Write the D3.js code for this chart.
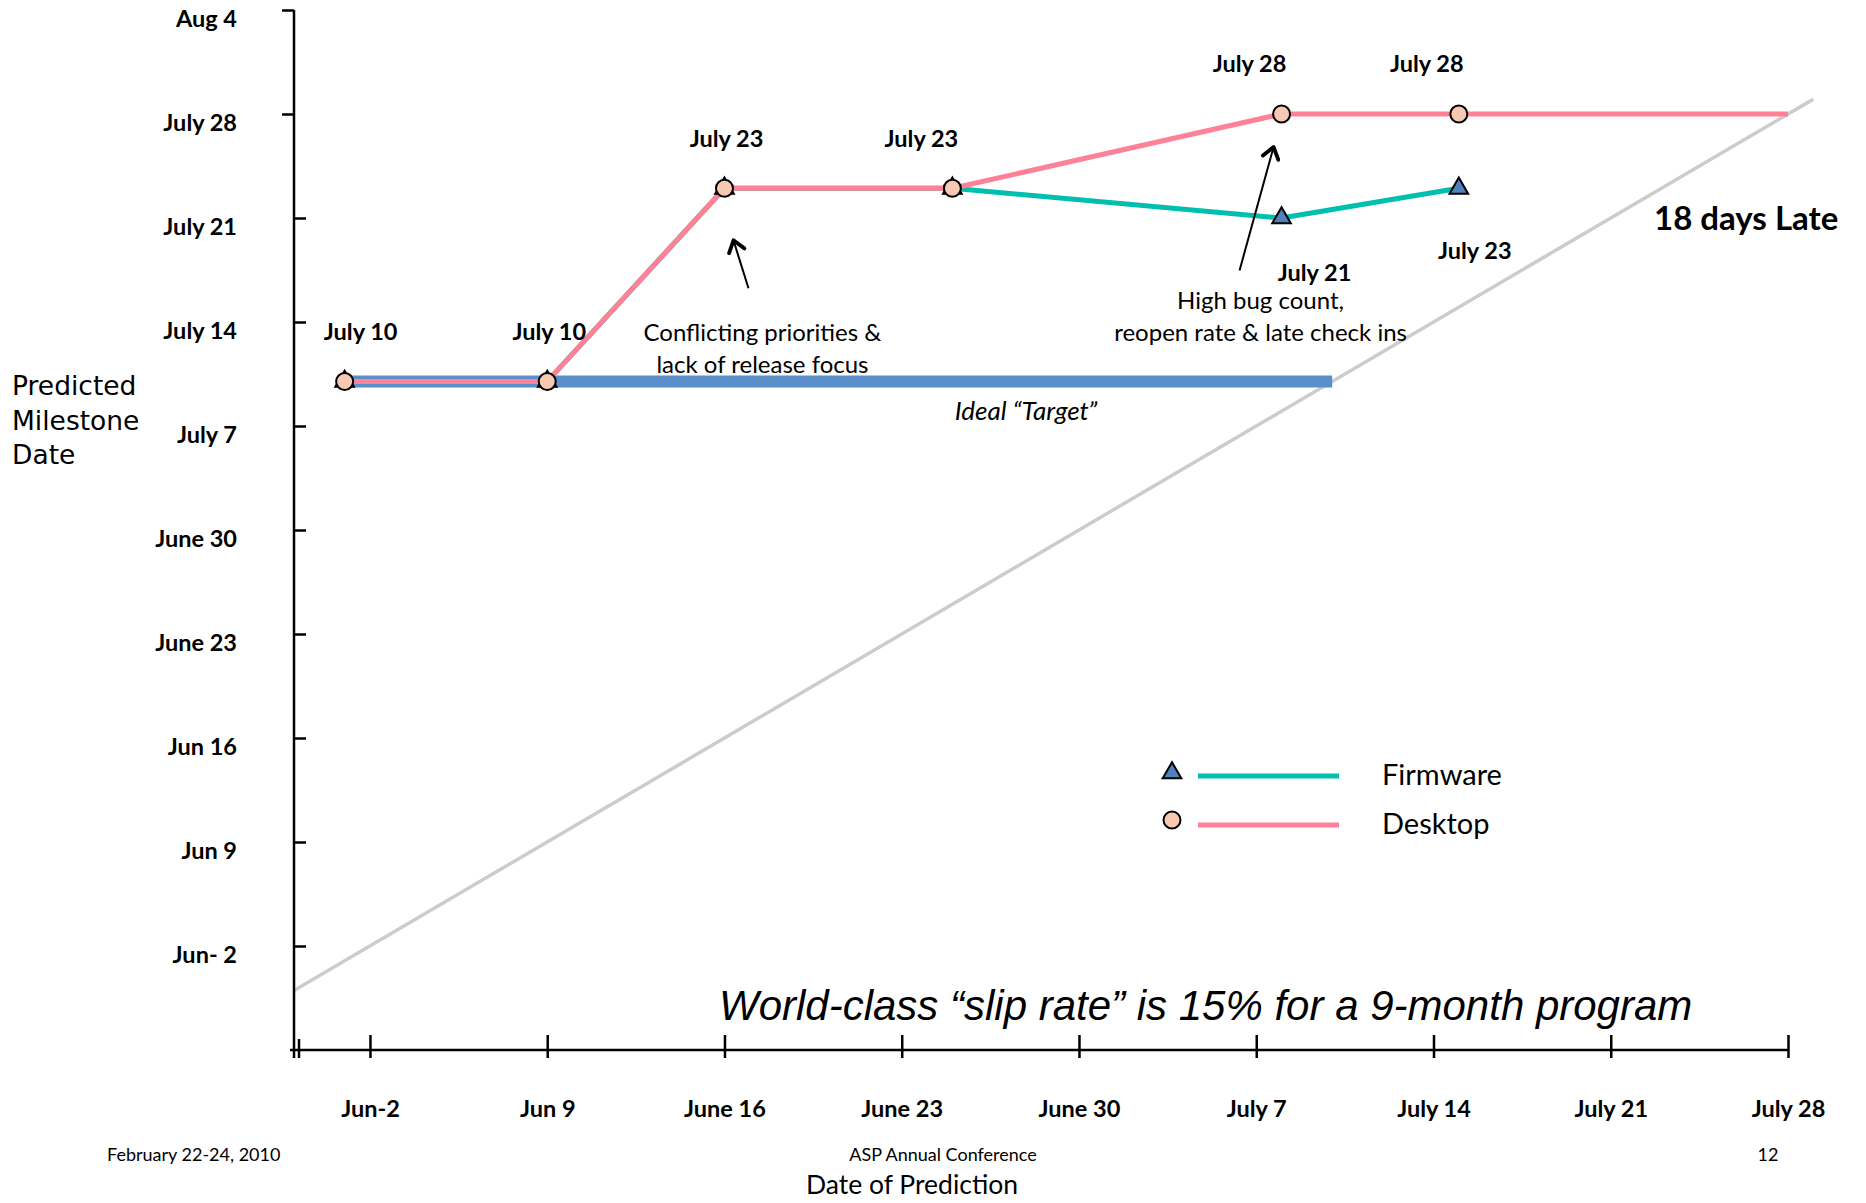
<!DOCTYPE html>
<html>
<head>
<meta charset="utf-8">
<script src="https://cdn.jsdelivr.net/npm/d3@7"></script>
<style>
  html, body { margin: 0; padding: 0; background: #fff; }
  svg { display: block; }
</style>
</head>
<body>
<svg id="chart" width="1866" height="1203"></svg>
<script>
const parseDay = d3.timeParse("%Y-%m-%d");
const fmtDay = d3.timeFormat("%B %-d");

// Dates on which each schedule prediction was made
const predictionDates = ["2009-06-01", "2009-06-09", "2009-06-16", "2009-06-25", "2009-07-08", "2009-07-15"];
// Predicted milestone date reported at each prediction
const firmwarePredicted = ["2009-07-10", "2009-07-10", "2009-07-23", "2009-07-23", "2009-07-21", "2009-07-23"];
const desktopPredicted  = ["2009-07-10", "2009-07-10", "2009-07-23", "2009-07-23", "2009-07-28", "2009-07-28"];
// Desktop prediction carried forward to this date
const desktopCarryTo = "2009-07-28";
// Ideal target: the original milestone, held from the first prediction
const targetFrom = "2009-06-01";
const targetMilestone = "2009-07-10";

// Axis ticks
const xTickDates = ["2009-06-02", "2009-06-09", "2009-06-16", "2009-06-23", "2009-06-30", "2009-07-07", "2009-07-14", "2009-07-21", "2009-07-28"];
const xTickLabels = ["Jun-2", "Jun 9", "June 16", "June 23", "June 30", "July 7", "July 14", "July 21", "July 28"];
const yTickDates = ["2009-06-02", "2009-06-09", "2009-06-16", "2009-06-23", "2009-06-30", "2009-07-07", "2009-07-14", "2009-07-21", "2009-07-28", "2009-08-04"];
const yTickLabels = ["Jun- 2", "Jun 9", "Jun 16", "June 23", "June 30", "July 7", "July 14", "July 21", "July 28", "Aug 4"];

const seriesNames = ["Firmware", "Desktop"];

// ---- colours / styles ----
const C = {
  desktop: "#FF8197",
  firmware: "#00BFAE",
  tri: "#4F81BD",
  dot: "#F8C9B2",
  target: "#5B8FC9",
  diag: "#CCCCCC",
  ink: "#000"
};
const LABEL_FONT = "Lato, 'Open Sans', sans-serif";
const TICK_SIZE = 23.5;

const svg = d3.select("#chart");

// ---- scales ----
const x = d3.scaleTime()
  .domain([parseDay("2009-05-30"), parseDay("2009-07-28")])
  .range([294, 1788]);
const y = d3.scaleTime()
  .domain([parseDay("2009-05-26"), parseDay("2009-08-04")])
  .range([1050, 10]);

const x0 = x.range()[0], yBase = y.range()[0];

const firmware = predictionDates.map((d, i) => ({ date: parseDay(d), value: parseDay(firmwarePredicted[i]) }));
const desktop = predictionDates.map((d, i) => ({ date: parseDay(d), value: parseDay(desktopPredicted[i]) }));
const desktopTrend = desktop.concat([{ date: parseDay(desktopCarryTo), value: desktop[desktop.length - 1].value }]);

const line = d3.line().x(d => x(d.date)).y(d => y(d.value));

// ---- clip for the plot area ----
svg.append("defs").append("clipPath").attr("id", "plot")
  .append("rect").attr("x", x0).attr("y", 0).attr("width", 1866 - x0).attr("height", yBase);

// ---- diagonal: prediction date equals actual date ----
const diagDates = [parseDay("2009-05-26"), parseDay("2009-07-29")];
svg.append("path")
  .attr("clip-path", "url(#plot)")
  .attr("d", d3.line().x(d => x(d)).y(d => y(d))(diagDates))
  .attr("fill", "none").attr("stroke", C.diag).attr("stroke-width", 3.5);

// ---- ideal target band ----
const tMile = parseDay(targetMilestone);
svg.append("line")
  .attr("x1", x(parseDay(targetFrom))).attr("x2", x(tMile))
  .attr("y1", y(tMile)).attr("y2", y(tMile))
  .attr("stroke", C.target).attr("stroke-width", 12);

// ---- axes ----
const xAxis = d3.axisBottom(x)
  .tickValues(xTickDates.map(parseDay))
  .tickFormat((d, i) => xTickLabels[i])
  .tickSize(0).tickSizeOuter(0).tickPadding(50);
const gx = svg.append("g").attr("transform", `translate(0,${yBase})`).call(xAxis);
gx.select(".domain").attr("stroke", C.ink).attr("stroke-width", 2.5)
  .attr("d", `M${x0 - 4},0H${x.range()[1]}`);
gx.selectAll(".tick line").attr("y1", -15).attr("y2", 8).attr("stroke", C.ink).attr("stroke-width", 2.5);
gx.selectAll(".tick text")
  .attr("font-family", LABEL_FONT).attr("font-weight", 700).attr("font-size", TICK_SIZE).attr("fill", C.ink);
// small tick at the origin
gx.append("line").attr("x1", x0 + 5).attr("x2", x0 + 5).attr("y1", -11).attr("y2", 8)
  .attr("stroke", C.ink).attr("stroke-width", 2.5);

const yAxis = d3.axisLeft(y)
  .tickValues(yTickDates.map(parseDay))
  .tickFormat((d, i) => yTickLabels[i])
  .tickSize(-12).tickSizeOuter(0).tickPadding(57);
const gy = svg.append("g").attr("transform", `translate(${x0},0)`).call(yAxis);
gy.select(".domain").attr("stroke", C.ink).attr("stroke-width", 2.5)
  .attr("d", `M0,${y.range()[1]}V${yBase + 8}`);
gy.selectAll(".tick line")
  .attr("x2", (d, i) => i >= yTickDates.length - 2 ? -12 : 12)
  .attr("stroke", C.ink).attr("stroke-width", 2.5);
gy.selectAll(".tick text")
  .attr("dy", "0.7em")
  .attr("font-family", LABEL_FONT).attr("font-weight", 700).attr("font-size", TICK_SIZE).attr("fill", C.ink);

// ---- series lines ----
svg.append("path").attr("d", line(firmware))
  .attr("fill", "none").attr("stroke", C.firmware).attr("stroke-width", 5).attr("stroke-linejoin", "round");
svg.append("path").attr("d", line(desktopTrend))
  .attr("fill", "none").attr("stroke", C.desktop).attr("stroke-width", 5).attr("stroke-linejoin", "round");

// ---- markers ----
const triPath = d3.symbol().type(d3.symbolTriangle).size(150)();
svg.append("g").selectAll("path").data(firmware).join("path")
  .attr("d", triPath)
  .attr("transform", d => `translate(${x(d.date)},${y(d.value)})`)
  .attr("fill", C.tri).attr("stroke", C.ink).attr("stroke-width", 2);
svg.append("g").selectAll("circle").data(desktop).join("circle")
  .attr("cx", d => x(d.date)).attr("cy", d => y(d.value)).attr("r", 8.5)
  .attr("fill", C.dot).attr("stroke", C.ink).attr("stroke-width", 2);

// ---- value labels ----
const desktopNudge = [[16, -50], [2, -50], [2, -50], [-31, -50], [-32, -50], [-32, -50]];
const firmwareNudge = [[33, 55], [16, 62]];
const valueLabels = desktop.map((d, i) => ({ d, nx: desktopNudge[i][0], ny: desktopNudge[i][1] }))
  .concat(firmware
    .map((d, i) => ({ d, i }))
    .filter(o => +o.d.value !== +desktop[o.i].value)
    .map((o, k) => ({ d: o.d, nx: firmwareNudge[k][0], ny: firmwareNudge[k][1] })));
svg.append("g").selectAll("text").data(valueLabels).join("text")
  .attr("x", o => x(o.d.date) + o.nx)
  .attr("y", o => y(o.d.value) + o.ny)
  .attr("dy", "0.35em")
  .attr("text-anchor", "middle")
  .attr("font-family", LABEL_FONT).attr("font-weight", 700).attr("font-size", TICK_SIZE)
  .text(o => fmtDay(o.d.value));

// ---- annotations ----
const defs = svg.select("defs");
defs.append("marker").attr("id", "chev")
  .attr("viewBox", "-14 -10 16 20").attr("markerWidth", 16).attr("markerHeight", 20)
  .attr("markerUnits", "userSpaceOnUse").attr("refX", 0).attr("refY", 0).attr("orient", "auto")
  .append("path").attr("d", "M-11,-8L0,0L-11,8")
  .attr("fill", "none").attr("stroke", C.ink).attr("stroke-width", 3.8)
  .attr("stroke-linecap", "round").attr("stroke-linejoin", "round");

function note(lines, cx, cy0, lh) {
  const t = svg.append("text").attr("text-anchor", "middle")
    .attr("font-family", LABEL_FONT).attr("font-size", 24).attr("fill", C.ink);
  lines.forEach((s, i) => t.append("tspan").attr("x", cx).attr("y", cy0 + i * lh).attr("dy", "0.35em").text(s));
}
function arrow(x1, y1, x2, y2) {
  svg.append("line").attr("x1", x1).attr("y1", y1).attr("x2", x2).attr("y2", y2)
    .attr("stroke", C.ink).attr("stroke-width", 2).attr("marker-end", "url(#chev)");
}

const yT = y(tMile);
// slip after the third prediction
{
  const p = desktop[2];
  const px = x(p.date), py = y(p.value);
  note(["Conflicting priorities &", "lack of release focus"], px + 38, yT - 49, 32.5);
  arrow(px + 24, py + 100, px + 9, py + 52);
}
// slip after the fifth prediction
{
  const p = desktop[4];
  const px = x(p.date), py = y(p.value);
  note(["High bug count,", "reopen rate & late check ins"], px - 21, yT - 81, 32.5);
  arrow(px - 42, yT - 81 - 30, px - 8, py + 33);
}

svg.append("text")
  .attr("x", 1026).attr("y", yT + 29).attr("dy", "0.35em").attr("text-anchor", "middle")
  .attr("font-family", LABEL_FONT).attr("font-style", "italic").attr("font-size", 26)
  .text("Ideal \u201CTarget\u201D");

svg.append("text")
  .attr("x", 1654).attr("y", 230)
  .attr("font-family", LABEL_FONT).attr("font-weight", 700).attr("font-size", 33)
  .text("18 days Late");

svg.append("text")
  .attr("x", 719).attr("y", 1020)
  .attr("font-family", "'Liberation Sans', Arial, sans-serif").attr("font-style", "italic").attr("font-size", 42)
  .text("World-class \u201Cslip rate\u201D is 15% for a 9-month program");

// ---- legend ----
const legend = svg.append("g");
const legendRows = [
  { name: seriesNames[0], color: C.firmware, y: 775, shape: "tri" },
  { name: seriesNames[1], color: C.desktop, y: 824, shape: "dot" }
];
legendRows.forEach(r => {
  if (r.shape === "tri") {
    legend.append("path").attr("d", triPath).attr("transform", `translate(1172,${r.y - 2})`)
      .attr("fill", C.tri).attr("stroke", C.ink).attr("stroke-width", 2);
  } else {
    legend.append("circle").attr("cx", 1172).attr("cy", r.y - 4).attr("r", 8.5)
      .attr("fill", C.dot).attr("stroke", C.ink).attr("stroke-width", 2);
  }
  legend.append("line").attr("x1", 1198).attr("x2", 1339).attr("y1", r.y + 1).attr("y2", r.y + 1)
    .attr("stroke", r.color).attr("stroke-width", 5);
  legend.append("text").attr("x", 1382).attr("y", r.y).attr("dy", "0.35em")
    .attr("font-family", LABEL_FONT).attr("font-size", 29).text(r.name);
});

// ---- axis titles ----
const yTitle = svg.append("text").attr("font-family", "'DejaVu Sans', Verdana, sans-serif").attr("font-size", 26.5);
["Predicted", "Milestone", "Date"].forEach((s, i) =>
  yTitle.append("tspan").attr("x", 12).attr("y", 395 + i * 34.5).text(s));

svg.append("text").attr("x", 912).attr("y", 1194).attr("text-anchor", "middle")
  .attr("font-family", LABEL_FONT).attr("font-size", 26.5).text("Date of Prediction");

// ---- footer ----
const foot = (txt, xp, anchor) => svg.append("text").attr("x", xp).attr("y", 1161)
  .attr("text-anchor", anchor).attr("font-family", LABEL_FONT).attr("font-size", 18).text(txt);
foot("February 22-24, 2010", 107, "start");
foot("ASP Annual Conference", 943, "middle");
foot("12", 1768, "middle");
</script>
</body>
</html>
